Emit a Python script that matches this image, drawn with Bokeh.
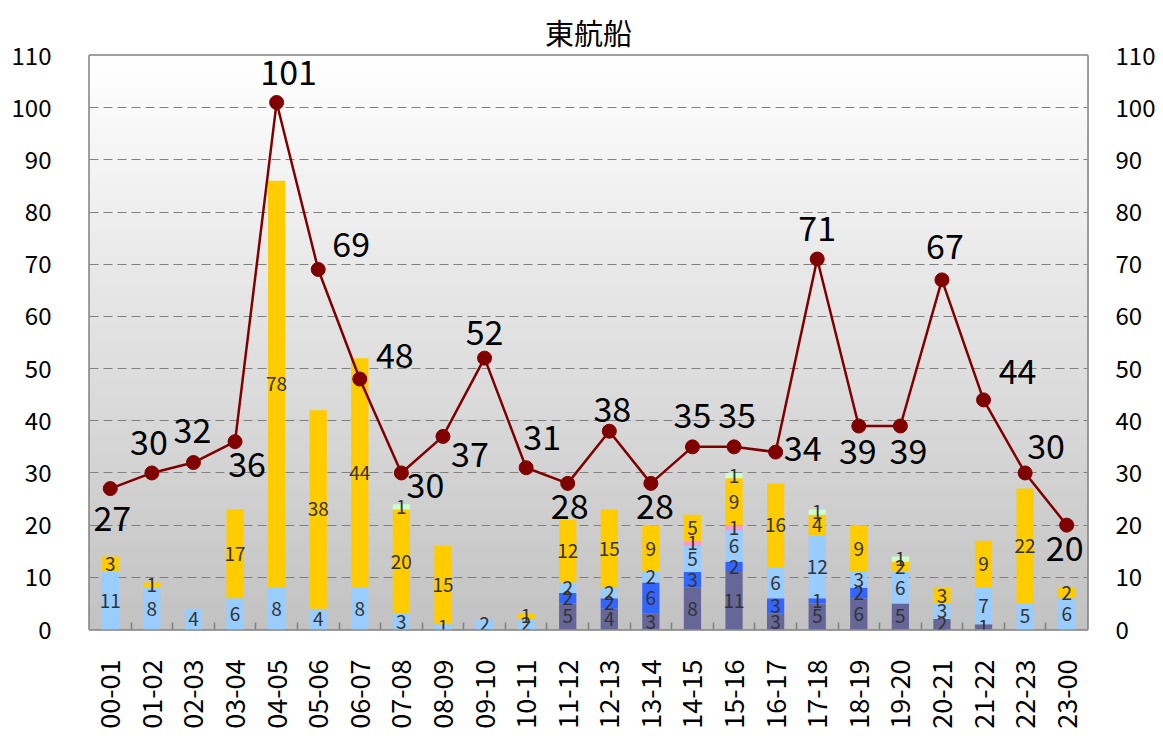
import math
import numpy as np
from bokeh.plotting import figure
from bokeh.models import (ColumnDataSource, Range1d, LinearAxis, FixedTicker)
from bokeh.core.properties import value
from bokeh.embed import file_html
from bokeh.resources import INLINE

# ---------------- data ----------------
title = "東航船"
hours = ["00-01", "01-02", "02-03", "03-04", "04-05", "05-06", "06-07", "07-08",
         "08-09", "09-10", "10-11", "11-12", "12-13", "13-14", "14-15", "15-16",
         "16-17", "17-18", "18-19", "19-20", "20-21", "21-22", "22-23", "23-00"]
s_purple = [0, 0, 0, 0, 0, 0, 0, 0, 0, 0, 0, 5, 4, 3, 8, 11, 3, 5, 6, 5, 2, 1, 0, 0]
s_blue   = [0, 0, 0, 0, 0, 0, 0, 0, 0, 0, 0, 2, 2, 6, 3, 2, 3, 1, 2, 0, 0, 0, 0, 0]
s_lblue  = [11, 8, 4, 6, 8, 4, 8, 3, 1, 2, 2, 2, 2, 2, 5, 6, 6, 12, 3, 6, 3, 7, 5, 6]
s_pink   = [0, 0, 0, 0, 0, 0, 0, 0, 0, 0, 0, 0, 0, 0, 1, 1, 0, 0, 0, 0, 0, 0, 0, 0]
s_yellow = [3, 1, 0, 17, 78, 38, 44, 20, 15, 0, 1, 12, 15, 9, 5, 9, 16, 4, 9, 2, 3, 9, 22, 2]
s_green  = [0, 0, 0, 0, 0, 0, 0, 1, 0, 0, 0, 0, 0, 0, 0, 1, 0, 1, 0, 1, 0, 0, 0, 0]
line_vals = [27, 30, 32, 36, 101, 69, 48, 30, 37, 52, 31, 28, 38, 28, 35, 35, 34, 71,
             39, 39, 67, 44, 30, 20]
y_ticks = [0, 10, 20, 30, 40, 50, 60, 70, 80, 90, 100, 110]

# ---------------- style ----------------
series_names = ["purple", "blue", "lblue", "pink", "yellow", "green"]
series_vals = [s_purple, s_blue, s_lblue, s_pink, s_yellow, s_green]
series_colors = ["#666699", "#3366FF", "#99CCFF", "#FF99CC", "#FFCC00", "#CCFFCC"]
line_color = "#800000"
label_dx = [2, -3, -1, 12, 12, 33, 35, 24, 27, 0, 16, 2, 3, 4, 0, 3, 27, 0, -1, 8, 3, 34, 21, -2]
label_dy = [30, -30, -32, 23, -30, -25, -24, 13, 18, -26, -30, 23, -22, 23, -31, -31, -4, -31,
            26, 26, -33, -28, -26, 23]
FONT = "Noto Sans CJK JP"

n = len(hours)
xc = [i + 0.5 for i in range(n)]

p = figure(width=1158, height=731, output_backend="svg", toolbar_location=None,
           x_range=Range1d(0, n), y_range=Range1d(0, 110),
           min_border_left=89, min_border_right=67, min_border_top=55, min_border_bottom=96,
           x_axis_location=None, y_axis_location=None)
p.title.text = title
p.title.align = "center"
p.title.text_font = FONT
p.title.text_font_size = "29px"
p.title.text_font_style = "normal"
p.title.text_color = "#000000"
p.title.standoff = 6

p.outline_line_color = "#808080"
p.outline_line_width = 2.5
p.background_fill_color = "#ffffff"

# gradient background
N = 256
img = np.empty((N, 1), dtype=np.uint32)
view = img.view(dtype=np.uint8).reshape((N, 1, 4))
for r in range(N):
    t = r / (N - 1)  # 0 bottom -> 1 top
    g = int(round(0xC2 + (0xFF - 0xC2) * t))
    view[r, 0, 0] = g
    view[r, 0, 1] = g
    view[r, 0, 2] = g
    view[r, 0, 3] = 255
bg = p.image_rgba(image=[img], x=0, y=0, dw=n, dh=110)
bg.level = "image"

# grid
p.xgrid.visible = False
p.ygrid.ticker = FixedTicker(ticks=y_ticks)
p.ygrid.grid_line_color = "#808080"
p.ygrid.grid_line_dash = "9 5"
p.ygrid.grid_line_width = 1

# axes
for side, standoff in (("left", 32), ("right", 22)):
    ax = LinearAxis(ticker=FixedTicker(ticks=y_ticks))
    ax.axis_line_color = None
    ax.major_tick_line_color = None
    ax.minor_tick_line_color = None
    ax.major_label_text_font = FONT
    ax.major_label_text_font_size = "24px"
    ax.major_label_text_color = "#000000"
    ax.major_label_standoff = standoff
    p.add_layout(ax, side)

xax = LinearAxis(ticker=FixedTicker(ticks=xc, minor_ticks=list(range(1, n))))
xax.axis_line_color = None
xax.major_tick_line_color = None
xax.minor_tick_line_color = "#808080"
xax.minor_tick_line_width = 1.5
xax.minor_tick_in = 7
xax.minor_tick_out = 0
xax.major_label_overrides = {x: h for x, h in zip(xc, hours)}
xax.major_label_orientation = math.pi / 2
xax.major_label_text_font = FONT
xax.major_label_text_font_size = "27px"
xax.major_label_text_color = "#000000"
xax.major_label_standoff = 24
p.add_layout(xax, "below")

# stacked bars
data = {"x": xc}
for name, vals in zip(series_names, series_vals):
    data[name] = vals
src = ColumnDataSource(data)
p.vbar_stack(series_names, x="x", width=0.415, color=series_colors, source=src, line_color=None)

# bar labels
lx, ly, lt = [], [], []
for i in range(n):
    base = 0
    for vals in series_vals:
        v = vals[i]
        if v > 0:
            lx.append(xc[i])
            ly.append(base + v / 2)
            lt.append(str(v))
        base += v
p.text(x=lx, y=ly, text=lt, text_align="center", text_baseline="middle",
       text_font=value(FONT), text_font_size="19px", text_color="#333333")

# line
p.line(xc, line_vals, line_color=line_color, line_width=2.5)
p.scatter(xc, line_vals, size=14, fill_color=line_color, line_color=line_color)
lsrc = ColumnDataSource(dict(x=xc, y=line_vals, t=[str(v) for v in line_vals],
                             dx=label_dx, dy=label_dy))
p.text(x="x", y="y", text="t", x_offset="dx", y_offset="dy", source=lsrc,
       text_align="center", text_baseline="middle",
       text_font=value(FONT), text_font_size="34px", text_color="#000000")

open("out.html", "w").write(file_html(p, INLINE))
